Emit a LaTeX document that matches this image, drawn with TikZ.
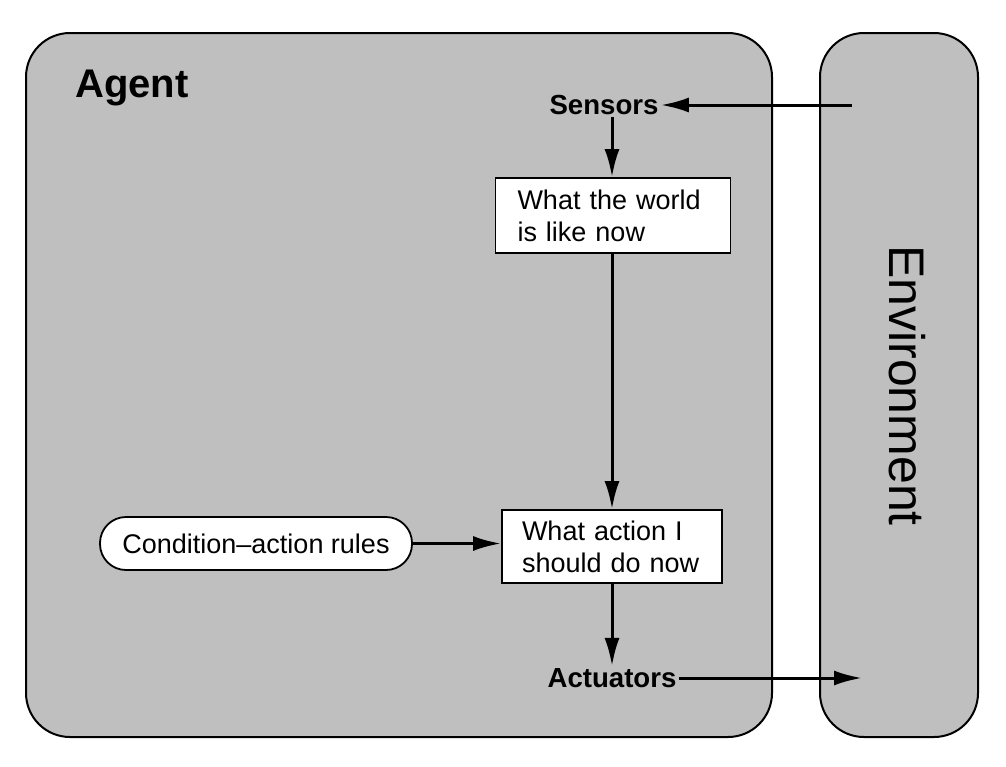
\documentclass[tikz,border=0pt]{standalone}
\usepackage{fontspec}
\setmainfont{Liberation Sans}
\usetikzlibrary{arrows.meta}
\definecolor{panel}{RGB}{191,191,191}
\begin{document}
\begin{tikzpicture}[x=0.5pt,y=-0.5pt,
  panelbox/.style={draw=black, line width=1pt, fill=panel, rounded corners=22pt},
  txtbox/.style={draw=black, line width=0.9pt, fill=white, align=left,
    font=\fontsize{13.5}{16}\selectfont, inner ysep=2pt},
  lbl/.style={font=\fontsize{13.8}{16}\selectfont\bfseries, inner sep=1pt},
  conn/.style={line width=1.5pt, -{Latex[length=14pt,width=7.5pt]}}]
\useasboundingbox (0,0) rectangle (1006,766);
\fill[white] (0,0) rectangle (1006,766);
% panels
\draw[panelbox] (26,33) rectangle (772,737);
\draw[panelbox] (820,33) rectangle (978,737);
% labels
\node[font=\fontsize{20}{24}\selectfont\bfseries, anchor=base west, inner sep=0pt] (agent) at (75,97) {Agent};
\node[font=\fontsize{25}{30}\selectfont, rotate=-90, inner sep=0pt] (env) at (907.5,385.5) {Environment};
% nodes
\node[lbl] (sensors) at (604,105) {Sensors};
\node[txtbox, inner xsep=11pt, text width=95.5pt, minimum height=37.5pt] (world) at (613,215.5) {What the world\\is like now};
\node[txtbox, inner xsep=10pt, text width=90pt, minimum height=36.5pt] (action) at (612,546.5) {What action I\\should do now};
\node[txtbox, align=center, minimum width=156pt, minimum height=26.5pt, rounded corners=13pt] (rules) at (256,543.5) {Condition--action rules};
\node[lbl] (actuators) at (612,678) {Actuators};
\coordinate (envin) at (852,107);
\coordinate (envout) at (862,678);
% connectors
\draw[conn] (sensors.east -| envin) -- (sensors.east);
\draw[conn] (sensors.south -| action.north) -- (action.north |- world.north);
\draw[conn] (action.north |- world.south) -- (action.north);
\draw[conn] (rules.east) -- (rules.east -| action.west);
\draw[conn] (action.south) -- (actuators.north);
\draw[conn] (actuators.east) -- (actuators.east -| envout);
\end{tikzpicture}
\end{document}
